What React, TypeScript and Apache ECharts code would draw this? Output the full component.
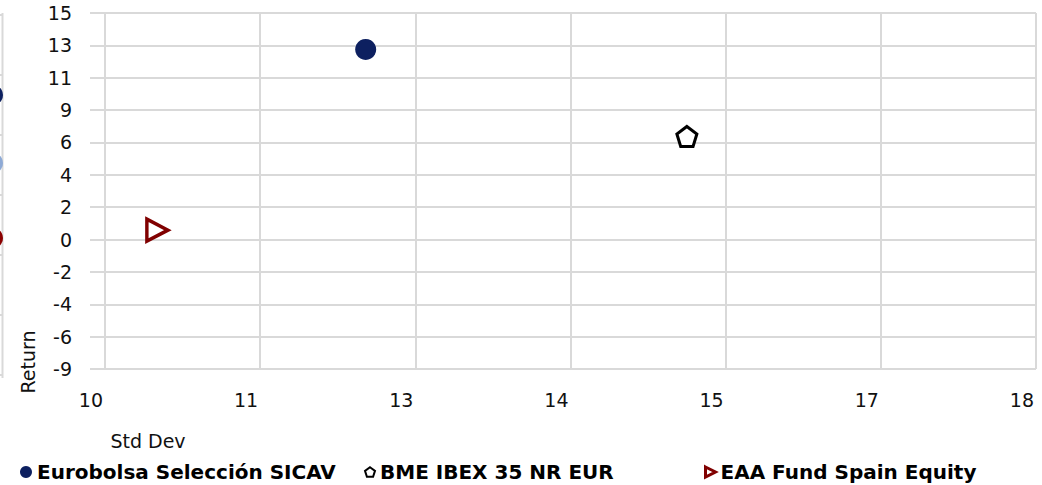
import React, { useEffect, useRef } from "react";
import * as echarts from "echarts";

const seriesNames = ["Eurobolsa Selección SICAV", "BME IBEX 35 NR EUR", "EAA Fund Spain Equity"];
const stdDev = [12.24, 15.0, 10.45];
const returns = [12.63, 6.85, 0.62];
const xTickValues = [10, 10 + 4 / 3, 10 + 8 / 3, 14, 14 + 4 / 3, 14 + 8 / 3, 18];
const yMin = -8.6;
const yMax = 15.05;
const yStep = 2.15;

const NAVY = "#0d2060";
const DARKRED = "#800000";
const GRID = "#d9d9d9";
const FONT = "DejaVu Sans";
const FS = 19;
const PENTAGON = "path://M50,0 L97.6,34.5 L79.4,90.5 L20.6,90.5 L2.4,34.5 Z";
const TRI_RIGHT = "path://M0,0 L100,50 L0,100 Z";

export default function App() {
  const ref = useRef<HTMLDivElement>(null);
  useEffect(() => {
    if (!ref.current) return;
    const chart = echarts.init(ref.current, null, { renderer: "svg" });
    const sideTicks: any[] = [];
    for (let y = 15; y <= 375; y += 60) {
      sideTicks.push({ type: "line", shape: { x1: 0, y1: y, x2: 3, y2: y }, style: { stroke: GRID, lineWidth: 2 }, silent: true });
    }
    const legendText = { fontSize: 20, fontWeight: "bold", color: "#000", fontFamily: FONT };
    chart.setOption({
      animation: false,
      textStyle: { fontFamily: FONT },
      grid: { left: 105, right: 6, top: 13, bottom: 116, containLabel: false },
      xAxis: {
        type: "value",
        min: 10,
        max: 18,
        axisLine: { show: false },
        axisTick: { show: true, length: 13, lineStyle: { color: GRID, width: 2 }, customValues: xTickValues },
        splitLine: { show: true, lineStyle: { color: GRID, width: 2 } },
        axisLabel: {
          customValues: xTickValues,
          formatter: (v: number) => String(Math.round(v)),
          color: "#111",
          fontSize: FS,
          fontFamily: FONT,
          align: "right",
          margin: 21,
          padding: [0, 2, 0, 0],
        },
      },
      yAxis: {
        type: "value",
        min: yMin,
        max: yMax,
        interval: yStep,
        axisLine: { show: false },
        axisTick: { show: true, length: 15, lineStyle: { color: GRID, width: 2 } },
        splitLine: { show: true, lineStyle: { color: GRID, width: 2 } },
        axisLabel: {
          formatter: (v: number) => String(Math.round(v)),
          color: "#111",
          fontSize: FS,
          fontFamily: FONT,
          margin: 33,
        },
      },
      legend: [
        {
          left: 20, top: 462, padding: 0, itemWidth: 12, itemHeight: 12,
          textStyle: legendText,
          data: [{ name: seriesNames[0], icon: "circle", itemStyle: { color: NAVY, opacity: 1 } }],
        },
        {
          left: 364, top: 462, padding: 0, itemWidth: 10, itemHeight: 10,
          textStyle: legendText,
          data: [{ name: seriesNames[1], icon: PENTAGON, itemStyle: { color: "#fff", borderColor: "#000", borderWidth: 2, opacity: 1 } }],
        },
        {
          left: 704, top: 462, padding: 0, itemWidth: 10, itemHeight: 11,
          textStyle: legendText,
          data: [{ name: seriesNames[2], icon: TRI_RIGHT, itemStyle: { color: "#fff", borderColor: DARKRED, borderWidth: 3, opacity: 1 } }],
        },
      ],
      graphic: [
        { type: "line", shape: { x1: 2.5, y1: 13, x2: 2.5, y2: 378 }, style: { stroke: GRID, lineWidth: 2 }, silent: true },
        ...sideTicks,
        { type: "circle", shape: { cx: -7, cy: 95, r: 10 }, style: { fill: NAVY } },
        { type: "circle", shape: { cx: -7, cy: 163, r: 10 }, style: { fill: "#8eaad6" } },
        { type: "circle", shape: { cx: -7, cy: 238, r: 10 }, style: { fill: "#8b0000" } },
        {
          type: "text", x: 28, y: 362, rotation: Math.PI / 2,
          style: { text: "Return", fontSize: FS, fontFamily: FONT, fill: "#111", textAlign: "center", textVerticalAlign: "middle" },
        },
        {
          type: "text", x: 148, y: 441,
          style: { text: "Std Dev", fontSize: FS, fontFamily: FONT, fill: "#111", textAlign: "center", textVerticalAlign: "middle" },
        },
      ],
      series: [
        {
          name: seriesNames[0], type: "scatter", symbol: "circle", symbolSize: 21,
          itemStyle: { color: NAVY, opacity: 1 },
          data: [[stdDev[0], returns[0]]],
        },
        {
          name: seriesNames[1], type: "scatter", symbol: PENTAGON, symbolSize: 20,
          itemStyle: { color: "#fff", borderColor: "#000", borderWidth: 3, opacity: 1 },
          data: [[stdDev[1], returns[1]]],
        },
        {
          name: seriesNames[2], type: "scatter", symbol: TRI_RIGHT, symbolSize: [21, 22],
          itemStyle: { color: "#fff", borderColor: DARKRED, borderWidth: 3.5, opacity: 1 },
          data: [[stdDev[2], returns[2]]],
        },
      ],
    });
    return () => chart.dispose();
  }, []);
  return <div ref={ref} style={{ width: 1042, height: 485, position: "absolute", left: 0, top: 0 }} />;
}
